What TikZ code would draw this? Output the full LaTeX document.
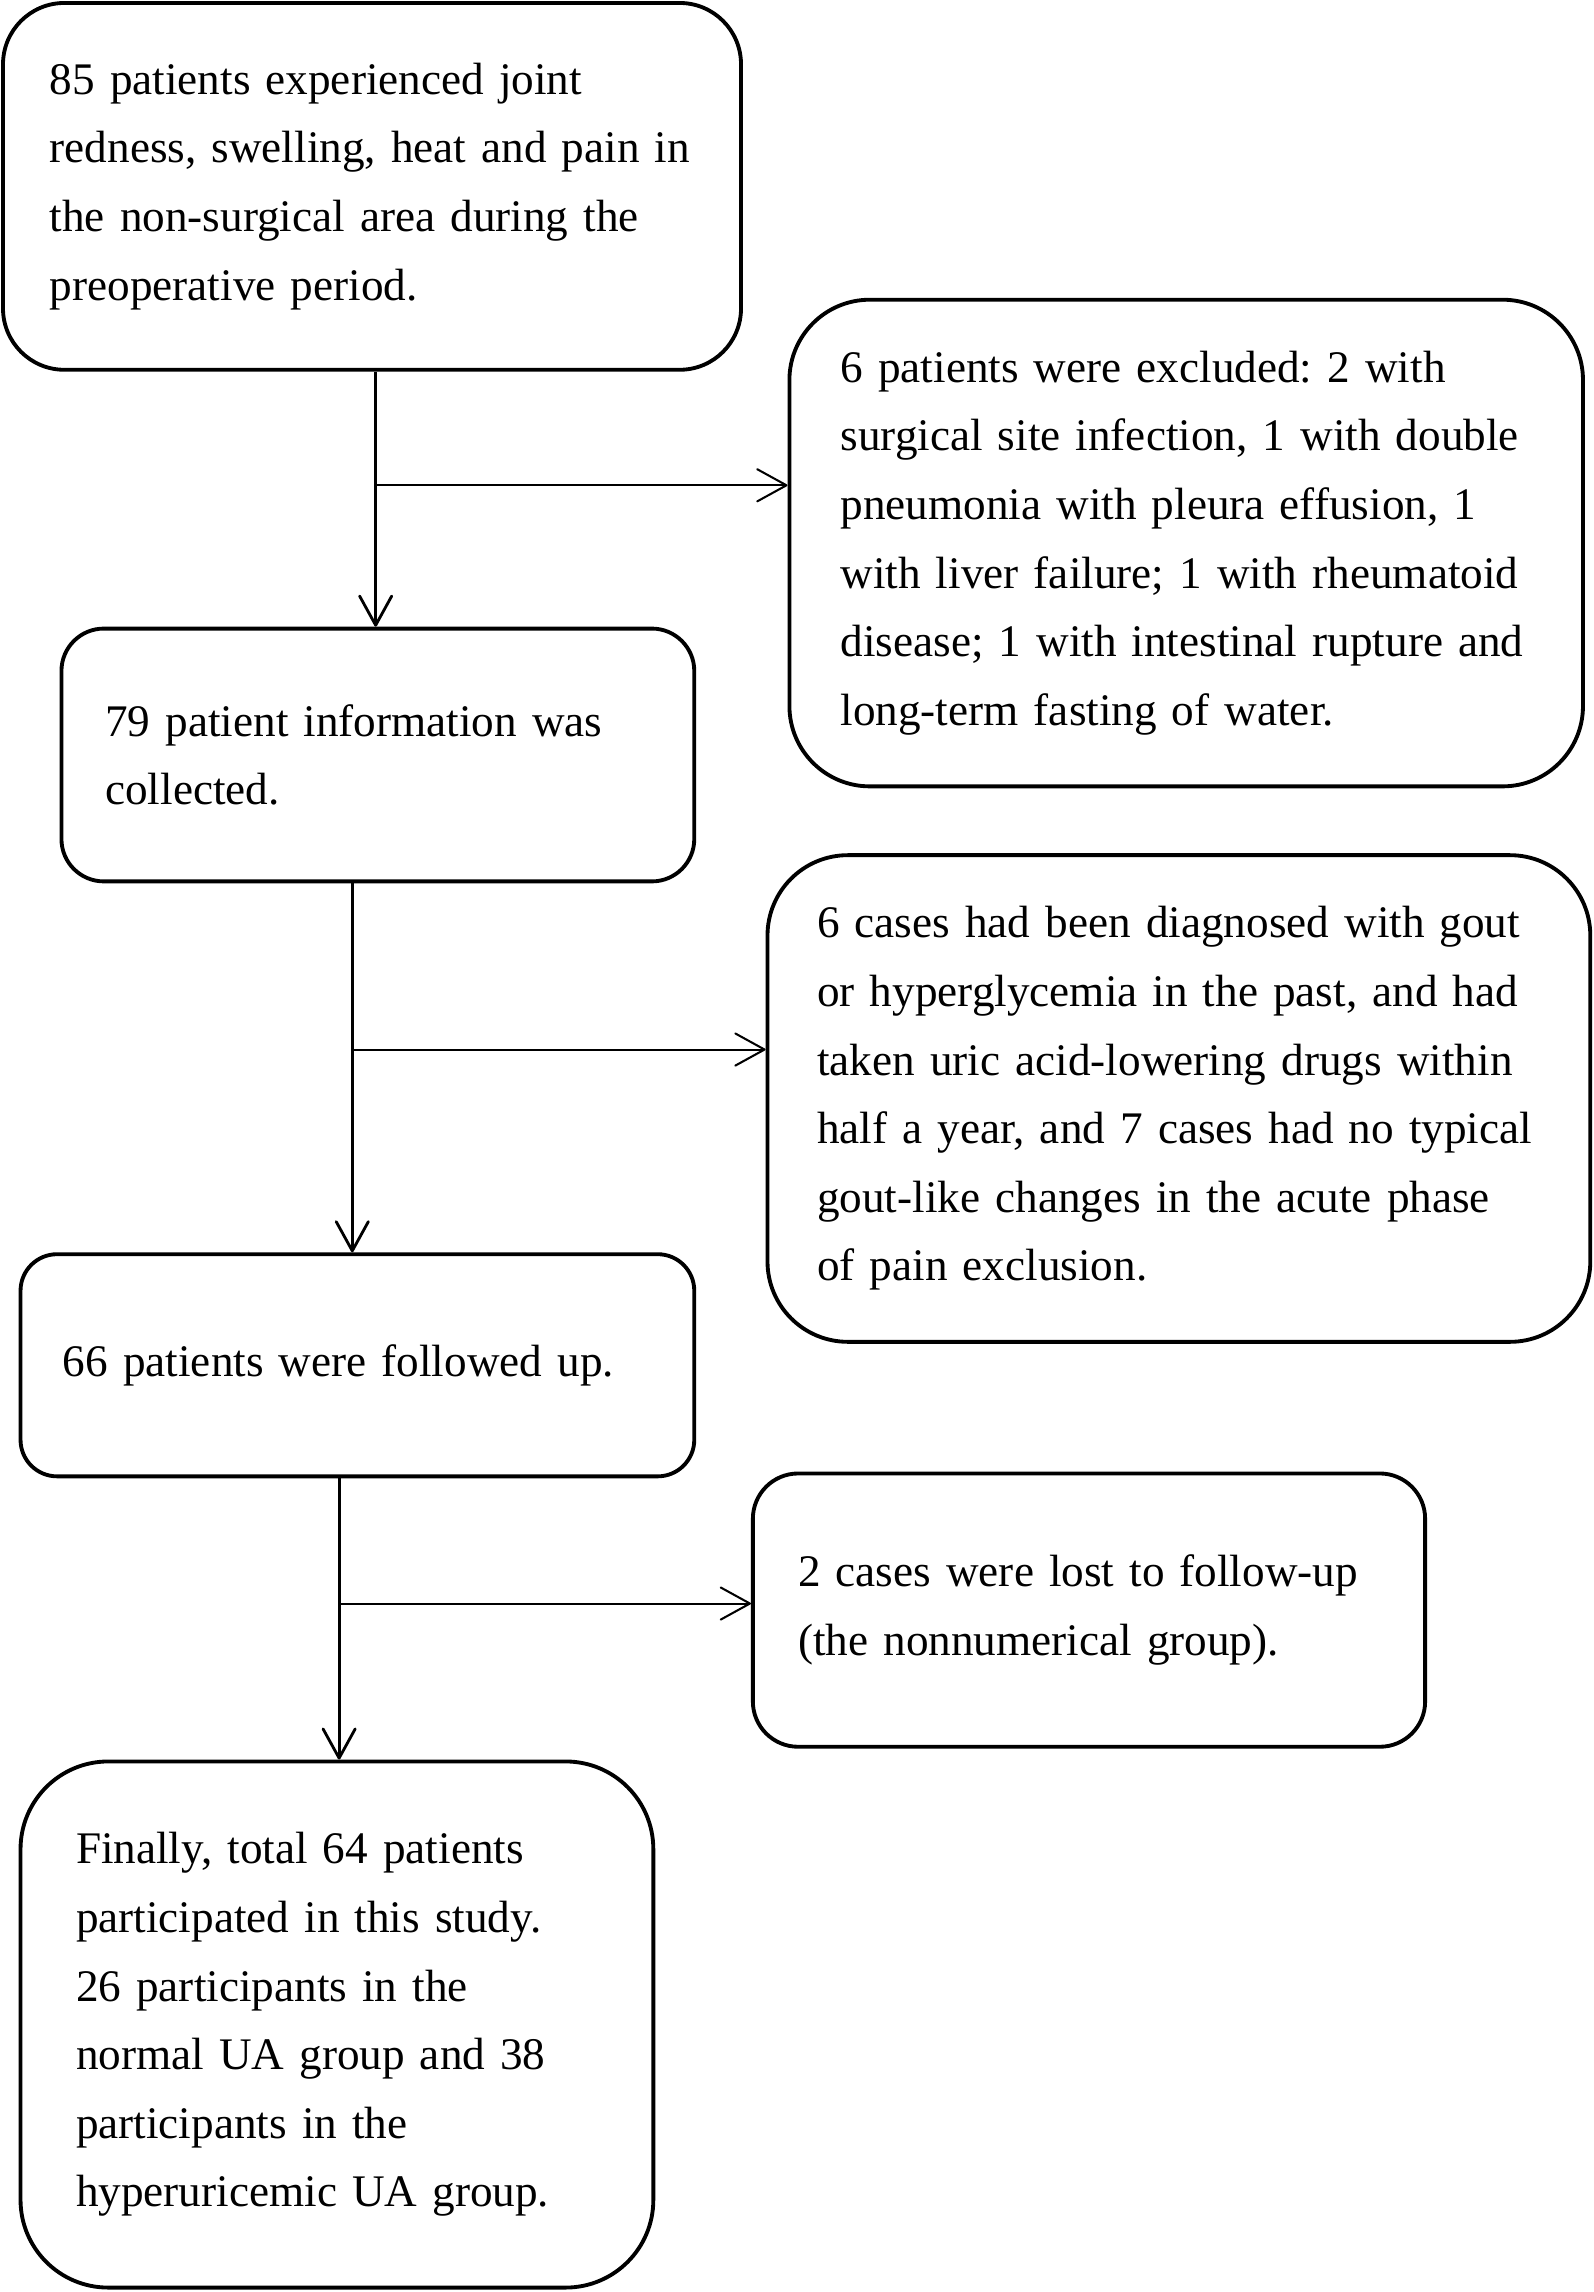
\documentclass[tikz,border=0pt]{standalone}
\usepackage{fontspec}
\setmainfont{Liberation Serif}
\usetikzlibrary{arrows.meta,calc}
\frenchspacing

\begin{document}
\begin{tikzpicture}[x=0.02cm,y=-0.02cm,
  box/.style={rectangle, draw, line width=1.5pt, align=left, inner ysep=0pt,
    font=\fontsize{17.6}{26.7}\selectfont},
  flow/.style={line width=0.8pt, -{Straight Barb[length=4mm,width=4.4mm,round]}},
  trunk/.style={flow, line width=1.1pt}]
\useasboundingbox (0,0) rectangle (1090,1568);

% main column
\node[box, rounded corners=0.84cm, text width=8.82cm, inner xsep=0.64cm, minimum height=5.02cm] (start) at (254.5,127.5) {85 patients experienced joint\\redness, swelling, heat and pain in\\the non-surgical area during the\\preoperative period.};
\node[box, rounded corners=0.58cm, text width=7.46cm, inner xsep=0.60cm, minimum height=3.46cm] (info) at (258.5,516.5) {79 patient information was\\collected.};
\node[box, rounded corners=0.50cm, text width=8.06cm, inner xsep=0.58cm, minimum height=3.04cm] (follow) at (244.5,934) {66 patients were followed up.};
\node[box, rounded corners=1.20cm, text width=7.14cm, inner xsep=0.76cm, minimum height=7.20cm] (final) at (230.5,1385) {Finally, total 64 patients\\participated in this study.\\26 participants in the\\normal UA group and 38\\participants in the\\hyperuricemic UA group.};

% exclusions
\node[box, rounded corners=1.10cm, text width=9.46cm, inner xsep=0.70cm, minimum height=6.66cm] (excl1) at (811.5,371.5) {6 patients were excluded: 2 with\\surgical site infection, 1 with double\\pneumonia with pleura effusion, 1\\with liver failure; 1 with rheumatoid\\disease; 1 with intestinal rupture and\\long-term fasting of water.};
\node[box, rounded corners=1.10cm, text width=9.90cm, inner xsep=0.68cm, minimum height=6.66cm] (excl2) at (806.5,751.5) {6 cases had been diagnosed with gout\\or hyperglycemia in the past, and had\\taken uric acid-lowering drugs within\\half a year, and 7 cases had no typical\\gout-like changes in the acute phase\\of pain exclusion.};
\node[box, rounded corners=0.62cm, text width=7.96cm, inner xsep=0.62cm, minimum height=3.74cm] (lost) at (745,1101.5) {2 cases were lost to follow-up\\(the nonnumerical group).};

% arrows
\coordinate (j1) at (257,332);
\coordinate (j2) at (241,718);
\coordinate (j3) at (232,1097);
\draw[trunk] (start.south -| j1) -- (info.north -| j1);
\draw[flow] (j1) -- (j1 -| excl1.west);
\draw[trunk] (info.south -| j2) -- (follow.north -| j2);
\draw[flow] (j2) -- (j2 -| excl2.west);
\draw[trunk] (follow.south -| j3) -- (final.north -| j3);
\draw[flow] (j3) -- (j3 -| lost.west);
\end{tikzpicture}
\end{document}
